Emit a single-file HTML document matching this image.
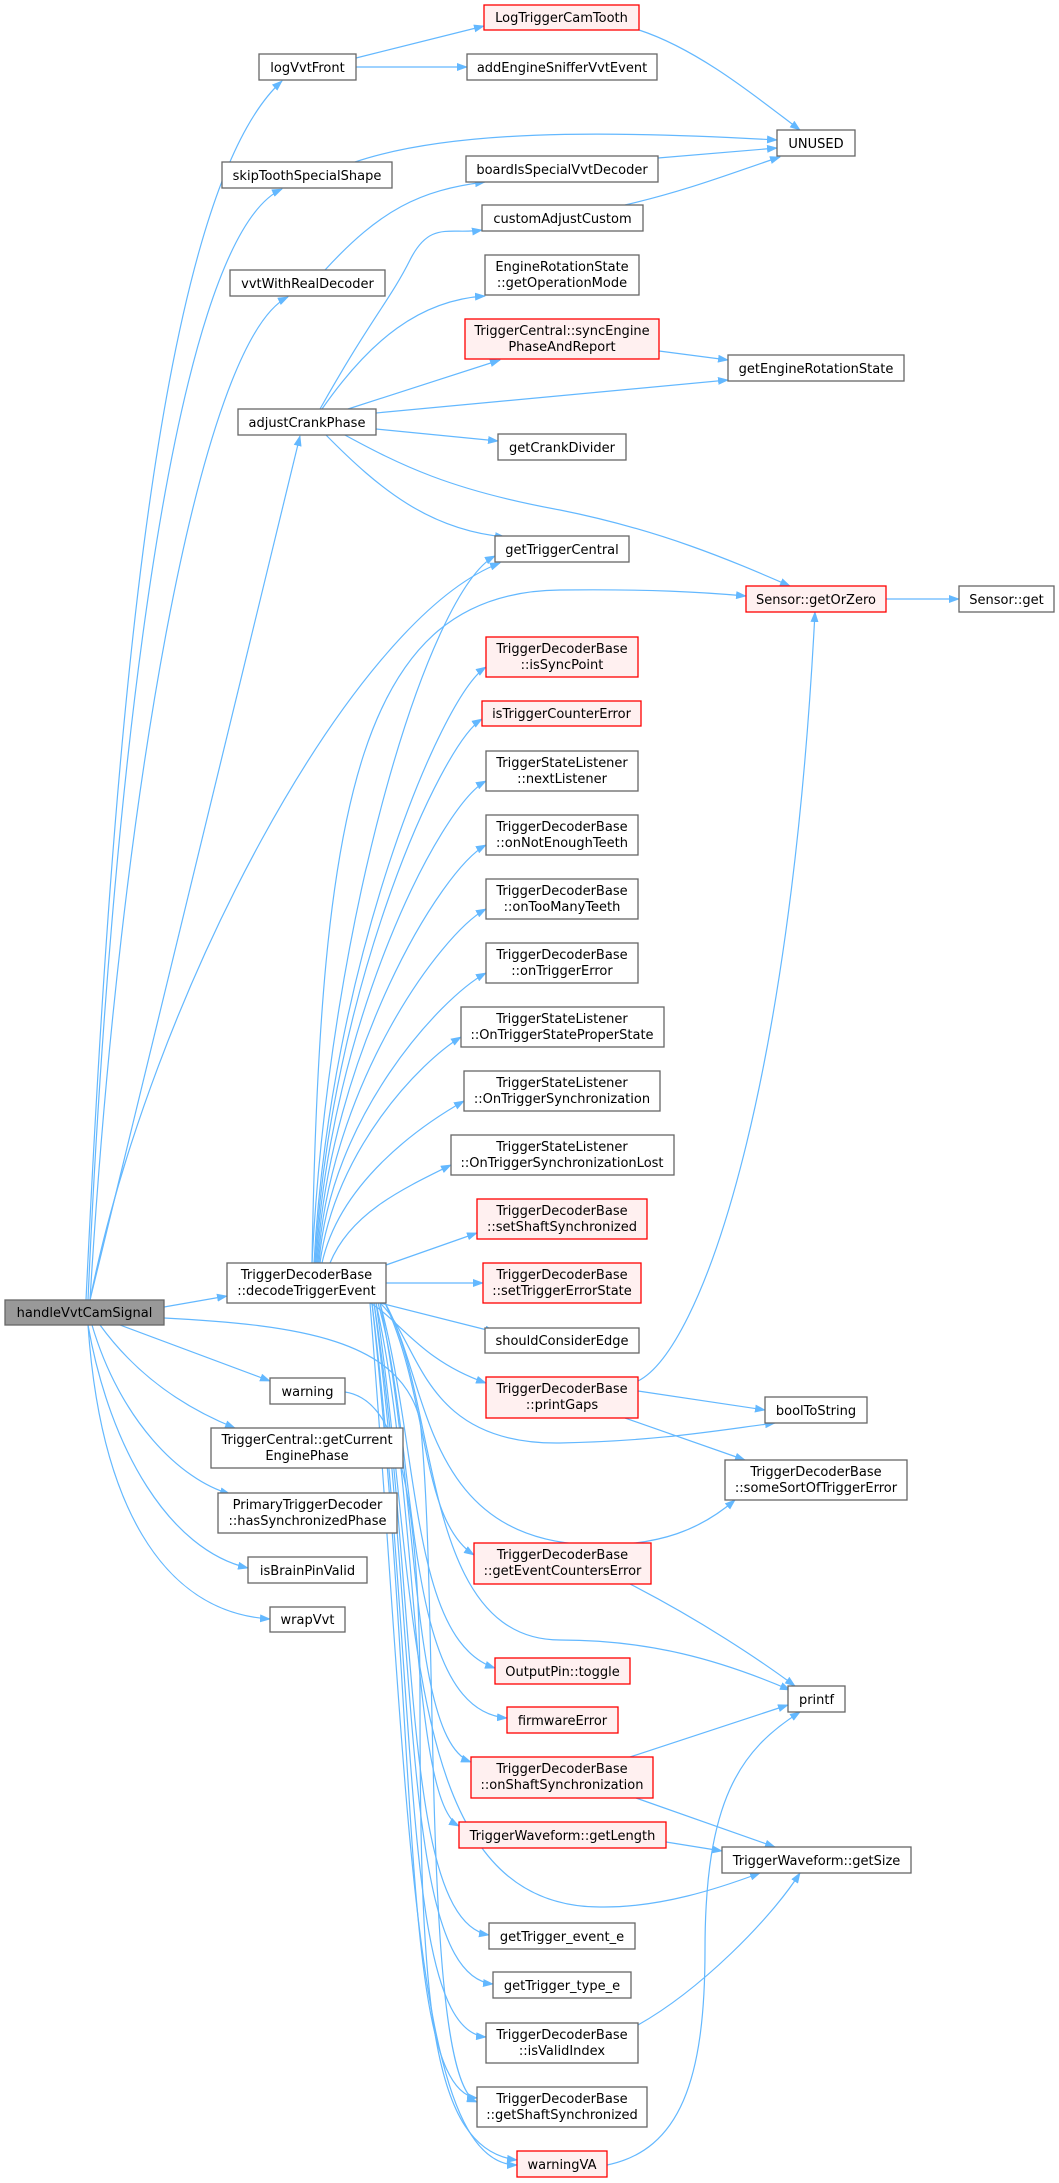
<!DOCTYPE html>
<html><head><meta charset="utf-8"><style>
html,body{margin:0;padding:0;background:#fff;width:1059px;height:2183px;overflow:hidden}
svg{display:block}
text{font-family:"DejaVu Sans","Liberation Sans",sans-serif;font-size:13px;fill:#000;text-anchor:middle}
.n{fill:#fff;stroke:#666;stroke-width:1.3}
.r{fill:#fff0f0;stroke:#f00;stroke-width:1.3}
.g{fill:#999;stroke:#666;stroke-width:1.3}
.e{fill:none;stroke:#63b8ff;stroke-width:1.2;marker-end:url(#a)}
</style></head><body>
<svg width="1059" height="2183" viewBox="0 0 1059 2183" xmlns="http://www.w3.org/2000/svg">
<defs><marker id="a" markerUnits="userSpaceOnUse" markerWidth="11" markerHeight="8" refX="10" refY="4" orient="auto"><path d="M0,0 L11,4 L0,8 z" fill="#63b8ff"/></marker></defs>
<g>
<!-- handleVvtCamSignal edges -->
<path class="e" d="M86,1300 C110,800 150,200 282,81"/>
<path class="e" d="M88,1300 C110,800 170,240 282,189"/>
<path class="e" d="M90,1300 C120,800 200,340 288,297"/>
<path class="e" d="M90,1300 L300,436"/>
<path class="e" d="M90,1300 C150,1000 350,620 500,563"/>
<path class="e" d="M164,1307 L227,1296"/>
<path class="e" d="M120,1325 L270,1381"/>
<path class="e" d="M100,1325 C140,1380 190,1410 235,1428"/>
<path class="e" d="M92,1325 C120,1420 180,1480 230,1494"/>
<path class="e" d="M88,1325 C110,1450 170,1550 248,1568"/>
<path class="e" d="M88,1325 C100,1500 160,1612 270,1619"/>
<path class="e" d="M164,1318 C300,1325 400,1340 420,1420 C440,1600 420,2080 477,2102"/>
<!-- logVvtFront etc -->
<path class="e" d="M356,58 L484,26"/>
<path class="e" d="M356,67 L467,67"/>
<path class="e" d="M639,30 C700,50 760,100 800,130"/>
<path class="e" d="M355,162 C450,130 600,130 777,140"/>
<path class="e" d="M658,158 L777,148"/>
<path class="e" d="M625,205 C690,190 740,170 780,157"/>
<path class="e" d="M325,270 C380,210 420,190 485,182"/>
<!-- adjustCrankPhase -->
<path class="e" d="M320,409 C370,320 390,300 410,260 C430,220 450,235 482,230"/>
<path class="e" d="M322,409 C370,340 420,300 485,296"/>
<path class="e" d="M348,409 L500,360"/>
<path class="e" d="M376,413 L728,380"/>
<path class="e" d="M376,429 L498,441"/>
<path class="e" d="M325,434 C380,490 430,530 505,537"/>
<path class="e" d="M343,434 C400,465 450,490 560,510 C660,530 730,560 790,586"/>
<path class="e" d="M659,351 L728,360"/>
<path class="e" d="M886,599 L959,599"/>
<!-- decodeTriggerEvent upward -->
<path class="e" d="M312,1263 C330,910 430,590 495,556"/>
<path class="e" d="M312,1263 C320,800 360,592 560,590 C650,589 700,592 746,596"/>
<path class="e" d="M314,1263 C330,965 440,697 486,667"/>
<path class="e" d="M315,1263 C330,991 440,745 482,719"/>
<path class="e" d="M316,1263 C330,1022 440,806 486,781"/>
<path class="e" d="M317,1263 C330,1054 440,870 486,845"/>
<path class="e" d="M318,1263 C330,1086 440,934 486,909"/>
<path class="e" d="M319,1263 C330,1118 440,998 486,973"/>
<path class="e" d="M320,1263 C335,1150 420,1062 461,1037"/>
<path class="e" d="M322,1263 C340,1182 420,1126 464,1101"/>
<path class="e" d="M330,1263 C350,1214 400,1190 451,1165"/>
<path class="e" d="M386,1265 L477,1233"/>
<path class="e" d="M386,1283 L483,1283"/>
<path class="e" d="M380,1303 L495,1332"/>
<path class="e" d="M370,1303 C400,1320 420,1360 486,1383"/>
<!-- decodeTriggerEvent downward -->
<path class="e" d="M380,1303 C420,1340 420,1445 560,1443 C660,1441 720,1430 775,1423"/>
<path class="e" d="M385,1303 C430,1380 420,1545 600,1545 C660,1545 700,1530 735,1500"/>
<path class="e" d="M385,1303 C430,1400 420,1520 474,1555"/>
<path class="e" d="M385,1303 C440,1400 420,1640 560,1640 C650,1640 720,1660 790,1690"/>
<path class="e" d="M380,1303 C420,1450 410,1640 495,1668"/>
<path class="e" d="M378,1303 C420,1450 400,1710 507,1718"/>
<path class="e" d="M380,1303 C420,1500 410,1740 471,1762"/>
<path class="e" d="M376,1303 C420,1500 410,1800 459,1826"/>
<path class="e" d="M376,1303 C420,1600 400,1907 600,1907 C660,1908 720,1888 760,1873"/>
<path class="e" d="M374,1303 C420,1600 400,1920 489,1935"/>
<path class="e" d="M374,1303 C420,1650 400,1975 493,1984"/>
<path class="e" d="M372,1303 C420,1700 400,2030 486,2037"/>
<path class="e" d="M372,1303 C420,1750 400,2090 477,2098"/>
<path class="e" d="M370,1303 C410,1800 410,2165 517,2165"/>
<path class="e" d="M345,1392 C400,1400 420,1500 420,1700 C420,2000 430,2150 517,2160"/>
<!-- misc -->
<path class="e" d="M630,1584 C700,1620 760,1660 795,1686"/>
<path class="e" d="M630,1757 L788,1705"/>
<path class="e" d="M636,1798 L775,1847"/>
<path class="e" d="M666,1842 L722,1851"/>
<path class="e" d="M638,2025 C700,1990 770,1920 800,1873"/>
<path class="e" d="M607,2165 C680,2150 705,2080 705,1950 C705,1800 740,1750 800,1712"/>
<path class="e" d="M638,1381 C700,1350 790,1100 815,612"/>
<path class="e" d="M638,1391 L765,1410"/>
<path class="e" d="M625,1418 L745,1460"/>
</g>
<g>
<rect class="r" x="484" y="5" width="155" height="25"/><text x="561.5" y="22">LogTriggerCamTooth</text>
<rect class="n" x="259" y="54" width="97" height="26"/><text x="307.5" y="72">logVvtFront</text>
<rect class="n" x="467" y="54" width="190" height="26"/><text x="562" y="72">addEngineSnifferVvtEvent</text>
<rect class="n" x="777" y="130" width="78" height="26"/><text x="816" y="148">UNUSED</text>
<rect class="n" x="222" y="162" width="170" height="26"/><text x="307" y="180">skipToothSpecialShape</text>
<rect class="n" x="466" y="156" width="192" height="26"/><text x="562" y="174">boardIsSpecialVvtDecoder</text>
<rect class="n" x="482" y="205" width="161" height="26"/><text x="562.5" y="223">customAdjustCustom</text>
<rect class="n" x="230" y="270" width="155" height="26"/><text x="307.5" y="288">vvtWithRealDecoder</text>
<rect class="n" x="485" y="255" width="154" height="40"/><text x="562" y="271">EngineRotationState</text><text x="562" y="287">::getOperationMode</text>
<rect class="r" x="465" y="319" width="194" height="40"/><text x="562" y="335">TriggerCentral::syncEngine</text><text x="562" y="351">PhaseAndReport</text>
<rect class="n" x="728" y="355" width="176" height="26"/><text x="816" y="373">getEngineRotationState</text>
<rect class="n" x="238" y="409" width="138" height="26"/><text x="307" y="427">adjustCrankPhase</text>
<rect class="n" x="498" y="434" width="128" height="26"/><text x="562" y="452">getCrankDivider</text>
<rect class="n" x="495" y="536" width="134" height="26"/><text x="562" y="554">getTriggerCentral</text>
<rect class="r" x="746" y="586" width="140" height="26"/><text x="816" y="604">Sensor::getOrZero</text>
<rect class="n" x="959" y="586" width="95" height="26"/><text x="1006.5" y="604">Sensor::get</text>
<rect class="r" x="486" y="637" width="152" height="40"/><text x="562" y="653">TriggerDecoderBase</text><text x="562" y="669">::isSyncPoint</text>
<rect class="r" x="482" y="701" width="159" height="25"/><text x="561.5" y="718">isTriggerCounterError</text>
<rect class="n" x="486" y="751" width="152" height="40"/><text x="562" y="767">TriggerStateListener</text><text x="562" y="783">::nextListener</text>
<rect class="n" x="486" y="815" width="152" height="40"/><text x="562" y="831">TriggerDecoderBase</text><text x="562" y="847">::onNotEnoughTeeth</text>
<rect class="n" x="486" y="879" width="152" height="40"/><text x="562" y="895">TriggerDecoderBase</text><text x="562" y="911">::onTooManyTeeth</text>
<rect class="n" x="486" y="943" width="152" height="40"/><text x="562" y="959">TriggerDecoderBase</text><text x="562" y="975">::onTriggerError</text>
<rect class="n" x="461" y="1007" width="203" height="40"/><text x="562" y="1023">TriggerStateListener</text><text x="562" y="1039">::OnTriggerStateProperState</text>
<rect class="n" x="464" y="1071" width="196" height="40"/><text x="562" y="1087">TriggerStateListener</text><text x="562" y="1103">::OnTriggerSynchronization</text>
<rect class="n" x="451" y="1135" width="223" height="40"/><text x="562" y="1151">TriggerStateListener</text><text x="562" y="1167">::OnTriggerSynchronizationLost</text>
<rect class="r" x="477" y="1199" width="170" height="40"/><text x="562" y="1215">TriggerDecoderBase</text><text x="562" y="1231">::setShaftSynchronized</text>
<rect class="r" x="483" y="1263" width="158" height="40"/><text x="562" y="1279">TriggerDecoderBase</text><text x="562" y="1295">::setTriggerErrorState</text>
<rect class="n" x="485" y="1328" width="154" height="25"/><text x="562" y="1345">shouldConsiderEdge</text>
<rect class="r" x="486" y="1377" width="152" height="41"/><text x="562" y="1393">TriggerDecoderBase</text><text x="562" y="1409">::printGaps</text>
<rect class="n" x="765" y="1397" width="102" height="26"/><text x="816" y="1415">boolToString</text>
<rect class="n" x="270" y="1378" width="75" height="26"/><text x="307.5" y="1396">warning</text>
<rect class="n" x="211" y="1428" width="192" height="40"/><text x="307" y="1444">TriggerCentral::getCurrent</text><text x="307" y="1460">EnginePhase</text>
<rect class="n" x="227" y="1263" width="159" height="40"/><text x="306.5" y="1279">TriggerDecoderBase</text><text x="306.5" y="1295">::decodeTriggerEvent</text>
<rect class="g" x="5" y="1300" width="159" height="25"/><text x="84.5" y="1317">handleVvtCamSignal</text>
<rect class="n" x="725" y="1460" width="182" height="40"/><text x="816" y="1476">TriggerDecoderBase</text><text x="816" y="1492">::someSortOfTriggerError</text>
<rect class="n" x="218" y="1493" width="179" height="40"/><text x="307.5" y="1509">PrimaryTriggerDecoder</text><text x="307.5" y="1525">::hasSynchronizedPhase</text>
<rect class="n" x="248" y="1557" width="119" height="26"/><text x="307.5" y="1575">isBrainPinValid</text>
<rect class="n" x="270" y="1607" width="75" height="25"/><text x="307.5" y="1624">wrapVvt</text>
<rect class="r" x="474" y="1543" width="177" height="41"/><text x="562.5" y="1559">TriggerDecoderBase</text><text x="562.5" y="1575">::getEventCountersError</text>
<rect class="n" x="788" y="1686" width="57" height="26"/><text x="816.5" y="1704">printf</text>
<rect class="r" x="495" y="1658" width="135" height="26"/><text x="562.5" y="1676">OutputPin::toggle</text>
<rect class="r" x="507" y="1707" width="111" height="26"/><text x="562.5" y="1725">firmwareError</text>
<rect class="r" x="471" y="1757" width="182" height="41"/><text x="562" y="1773">TriggerDecoderBase</text><text x="562" y="1789">::onShaftSynchronization</text>
<rect class="r" x="459" y="1822" width="207" height="26"/><text x="562.5" y="1840">TriggerWaveform::getLength</text>
<rect class="n" x="722" y="1847" width="189" height="26"/><text x="816.5" y="1865">TriggerWaveform::getSize</text>
<rect class="n" x="489" y="1923" width="146" height="26"/><text x="562" y="1941">getTrigger_event_e</text>
<rect class="n" x="493" y="1972" width="138" height="26"/><text x="562" y="1990">getTrigger_type_e</text>
<rect class="n" x="486" y="2023" width="152" height="40"/><text x="562" y="2039">TriggerDecoderBase</text><text x="562" y="2055">::isValidIndex</text>
<rect class="n" x="477" y="2087" width="170" height="40"/><text x="562" y="2103">TriggerDecoderBase</text><text x="562" y="2119">::getShaftSynchronized</text>
<rect class="r" x="517" y="2151" width="90" height="26"/><text x="562" y="2169">warningVA</text>
</g>
</svg>
</body></html>
